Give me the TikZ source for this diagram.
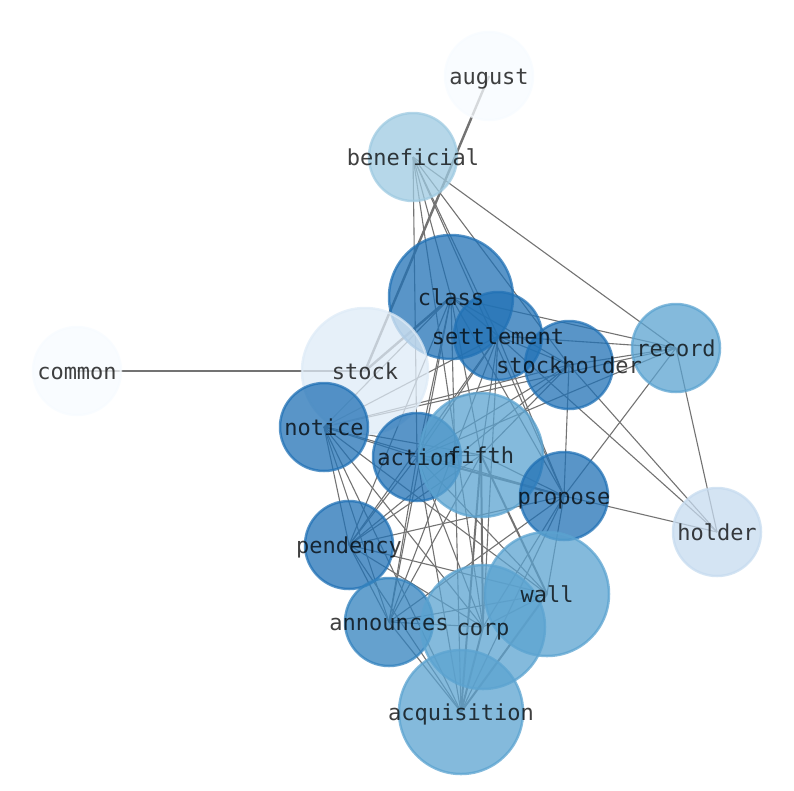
\documentclass[tikz,border=0pt]{standalone}
\usepackage{fontspec}
\setmonofont{DejaVu Sans Mono}
\pgfdeclarelayer{bg}
\pgfsetlayers{bg,main}
\definecolor{dk}{HTML}{2171B5}
\definecolor{an}{HTML}{3282BE}
\definecolor{md}{HTML}{5BA3D0}
\definecolor{bn}{HTML}{9ECAE1}
\definecolor{hd}{HTML}{C6DBEF}
\definecolor{st}{HTML}{DEEBF7}
\definecolor{pl}{HTML}{F7FBFF}
\begin{document}
\begin{tikzpicture}[x=1pt, y=-1pt,
  word/.style={draw=#1, fill=#1, circle, line width=2.5pt, fill opacity=0.75, draw opacity=0.75, inner sep=0pt, minimum size=88pt},
  big/.style={minimum size=124pt},
  lbl/.style={text=black, text opacity=0.75, font=\ttfamily\fontsize{22}{26}\selectfont, inner sep=0pt, text height=16.5pt, text depth=5.5pt, yshift=-2.5pt},
  link/.style={draw=black!55, line width=1.1pt},
  heavy/.style={draw=black!55, line width=2pt}]
\useasboundingbox (0,0) rectangle (794,790);

% circles
\node[word=pl] (august) at (489,76) {};
\node[word=bn] (beneficial) at (413,157) {};
\node[word=dk, big] (class) at (451,297) {};
\node[word=dk] (settlement) at (498,336) {};
\node[word=dk] (stockholder) at (569,365) {};
\node[word=md] (record) at (676,348) {};
\node[word=st, big, minimum size=126pt] (stock) at (365,371) {};
\node[word=pl] (common) at (77,371) {};
\node[word=dk] (notice) at (324,427) {};
\node[word=dk] (action) at (417,457) {};
\node[word=md, big] (fifth) at (481,455) {};
\node[word=dk] (propose) at (564,496) {};
\node[word=hd] (holder) at (717,532) {};
\node[word=dk] (pendency) at (349,545) {};
\node[word=md, big] (wall) at (547,594) {};
\node[word=an] (announces) at (389,622) {};
\node[word=md, big] (corp) at (483,627) {};
\node[word=md, big] (acquisition) at (461,712) {};

% labels
\foreach \w in {august,beneficial,class,settlement,stockholder,record,stock,common,notice,action,fifth,propose,holder,pendency,wall,announces,corp,acquisition}
  \node[lbl] (\w-t) at (\w.center) {\w};

% links
\begin{pgfonlayer}{bg}
\draw[heavy, line width=2.6pt] (common.center) -- (stock.center);
\draw[heavy, line width=2.4pt] (august.center) -- (stock.center);
\draw[heavy, line width=2.4pt] (stock.center) -- (class.center);
\foreach \a/\b in {fifth/wall,fifth/corp,fifth/acquisition,wall/acquisition,corp/acquisition,action/propose}
  \draw[heavy] (\a.center) -- (\b.center);
\foreach \b in {action,class,settlement,stockholder,record,propose,corp}
  \draw[link] (beneficial.center) -- (\b.center);
\foreach \b in {settlement,stockholder,record,notice,action,fifth,propose,pendency,announces,acquisition}
  \draw[link] (class.center) -- (\b.center);
\foreach \b in {stockholder,record,notice,action,fifth,propose,pendency,announces,holder,corp}
  \draw[link] (settlement.center) -- (\b.center);
\foreach \b in {record,notice,action,propose,holder,pendency,fifth}
  \draw[link] (stockholder.center) -- (\b.center);
\foreach \b in {notice,action,propose,holder}
  \draw[link] (record.center) -- (\b.center);
\foreach \b in {action,pendency,propose,announces,fifth,corp,acquisition,wall}
  \draw[link] (notice.center) -- (\b.center);
\foreach \b in {pendency,fifth,announces,corp,wall,acquisition}
  \draw[link] (action.center) -- (\b.center);
\foreach \b in {pendency,holder,fifth,wall,corp,announces,acquisition}
  \draw[link] (propose.center) -- (\b.center);
\foreach \b in {fifth,wall,corp,announces,acquisition}
  \draw[link] (pendency.center) -- (\b.center);
\foreach \b in {fifth,wall,corp,acquisition}
  \draw[link] (announces.center) -- (\b.center);
\draw[link] (wall.center) -- (corp.center);
\end{pgfonlayer}
\end{tikzpicture}
\end{document}
